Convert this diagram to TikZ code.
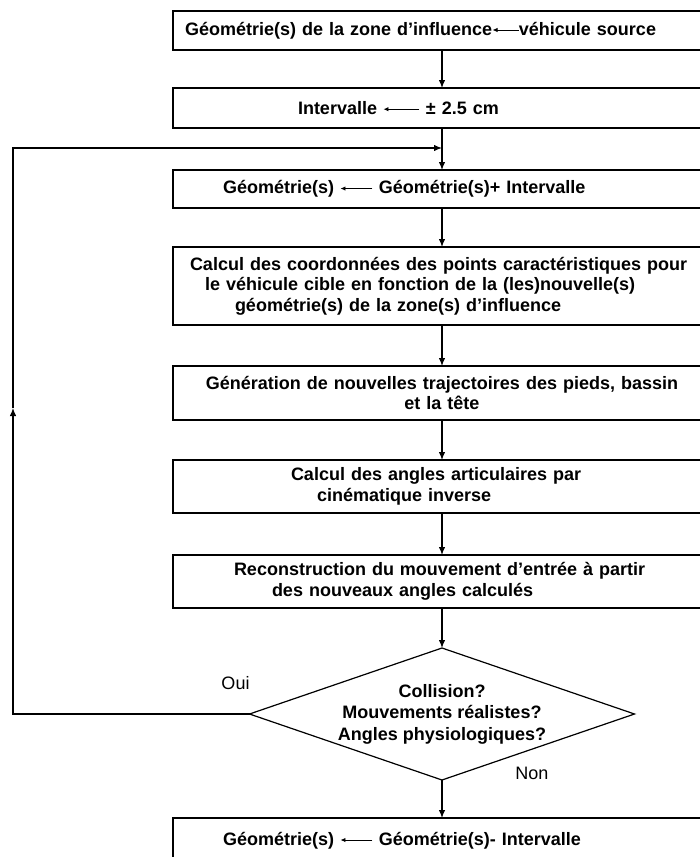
\documentclass[tikz,border=0pt]{standalone}
\usepackage{fontspec}
\setmainfont{Liberation Sans}
\usetikzlibrary{arrows.meta, positioning, shapes.geometric}

\newcommand{\txtarrow}[1]{\tikz[baseline=-0.55ex]\draw[-{Latex[length=5pt,width=4.5pt]}, line width=0.9pt] (#1pt,0pt) -- (0pt,0pt);}

\begin{document}
\begin{tikzpicture}[
    x=1pt, y=1pt,
    font=\fontsize{18}{20.5}\selectfont\bfseries,
    procbox/.style={draw, line width=1.2pt, outer sep=0pt, minimum width=538pt, text width=514pt, inner xsep=12pt, inner ysep=2pt, align=left},
    decision/.style={draw, diamond, line width=1.2pt, outer sep=0pt, aspect=2.9, minimum width=385pt, minimum height=132pt, inner sep=0pt, align=center, font=\fontsize{18}{21.5}\selectfont\bfseries},
    arrow/.style={-{Latex[length=8pt,width=6.5pt]}, line width=1.2pt},
    answer/.style={font=\fontsize{18}{20.5}\selectfont\mdseries}
]
\useasboundingbox (0,0) rectangle (699,-857);

% Main column
\node[procbox, minimum height=39pt] (zone) at (442,-30.5) {Géométrie(s) de la zone d’influence\txtarrow{26}véhicule source};
\node[procbox, minimum height=40pt, below=38pt of zone] (interv) {\hspace*{113pt}Intervalle \txtarrow{36} ± 2.5 cm};
\node[procbox, minimum height=38pt, below=42pt of interv] (iter) {\hspace*{38pt}Géométrie(s) \txtarrow{32} Géométrie(s)+ Intervalle};
\node[procbox, minimum height=78pt, below=39pt of iter] (points) {\hspace*{5pt}Calcul des coordonnées des points caractéristiques pour\\
  \hspace*{20pt}le véhicule cible en fonction de la (les)nouvelle(s)\\
  \hspace*{50pt}géométrie(s) de la zone(s) d’influence};
\node[procbox, align=center, minimum height=54pt, below=41pt of points] (traj) {Génération de nouvelles trajectoires des pieds, bassin\\ et la tête};
\node[procbox, minimum height=53pt, below=40pt of traj] (angles) {\hspace*{106pt}Calcul des angles articulaires par\\
  \hspace*{132pt}cinématique inverse};
\node[procbox, minimum height=53pt, below=42pt of angles] (recon) {\hspace*{49pt}Reconstruction du mouvement d’entrée à partir\\
  \hspace*{87pt}des nouveaux angles calculés};

% Test
\node[decision, below=40pt of recon] (check) {Collision?\\Mouvements réalistes?\\Angles physiologiques?};
\node[answer] (oui) at ([xshift=-14pt,yshift=31pt]check.west) {Oui};
\node[answer] (non) at ([xshift=90pt,yshift=7pt]check.south) {Non};
\node[procbox, minimum height=45pt, below=38pt of check] (shrink) {\hspace*{38pt}Géométrie(s) \txtarrow{32} Géométrie(s)- Intervalle};

% Loop back
\coordinate (rail) at (13,0);
\coordinate (looptip) at (13,-408);
\coordinate (entry) at ([yshift=-20pt]interv.south);

\draw[arrow] (zone) -- (interv);
\draw[arrow] (interv) -- (iter);
\draw[arrow] (iter) -- (points);
\draw[arrow] (points) -- (traj);
\draw[arrow] (traj) -- (angles);
\draw[arrow] (angles) -- (recon);
\draw[arrow] (recon) -- (check);
\draw[arrow] (check) -- (shrink);

\draw[arrow] (check.west) -- (check.west -| rail) -- (looptip);
\draw[arrow] (looptip) -- (rail |- entry) -- (entry);

\end{tikzpicture}
\end{document}
